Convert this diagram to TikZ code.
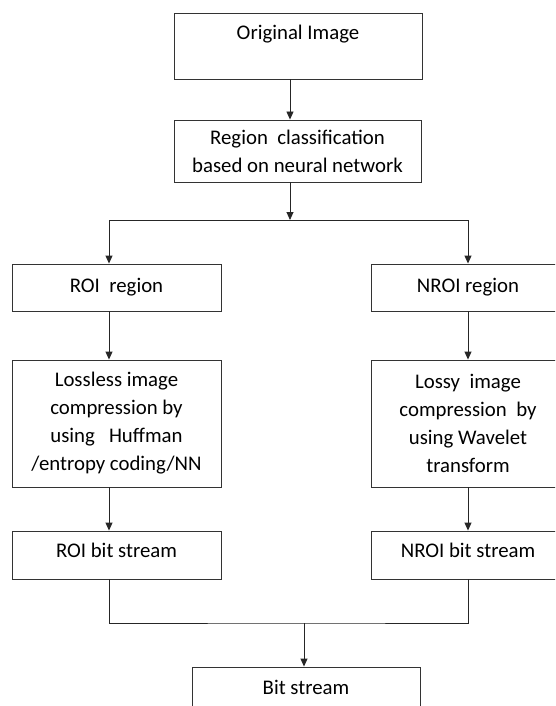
\documentclass[tikz,border=0pt]{standalone}
\usepackage{fontspec}
\setmainfont{Carlito}
\usetikzlibrary{arrows.meta}
\begin{document}
\begin{tikzpicture}[x=1pt,y=-1pt,
  box/.style={draw=black!80, line width=0.9pt, inner sep=0pt, align=center, font=\fontsize{20.8}{28}\selectfont},
  arr/.style={draw=black!85, line width=0.9pt, -{Triangle[length=8pt,width=7pt]}},
  ln/.style={draw=black!85, line width=0.9pt}]
\path[use as bounding box, clip] (0,0) rectangle (555,706);
\node[box, minimum width=248pt, text height=27pt, text depth=39pt] (orig) at (298,46) {Original Image};
\node[box, minimum width=247pt, minimum height=62pt] (region) at (297.5,151) {Region\ \ classification\\based on neural network};
\node[box, minimum width=209pt, minimum height=47pt] (roi) at (116.5,287.5) {ROI\ \ region};
\node[box, minimum width=194pt, minimum height=47pt] (nroi) at (468,287.5) {NROI region};
\node[box, minimum width=209pt, minimum height=127pt] (lossless) at (116.5,423.5) {Lossless image\\compression by\\using\ \ \ Huffman\\/entropy coding/NN};
\node[box, minimum width=194pt, minimum height=127pt] (lossy) at (468,423.5) {Lossy\ \ image\\compression\ \ by\\using Wavelet\\transform};
\node[box, minimum width=209pt, text height=26pt, text depth=22pt] (roibits) at (116.5,555) {ROI bit stream};
\node[box, minimum width=194pt, text height=26pt, text depth=22pt] (nroibits) at (468,555) {NROI bit stream};
\node[box, minimum width=228pt, text height=27pt, text depth=23pt] (bits) at (306,692) {Bit stream};

\coordinate (split) at (290,220);
\coordinate (sl) at (109,220);
\coordinate (sr) at (468,220);
\coordinate (merge) at (304,623);

\path[arr] (orig.south -| split) -- (region.north -| split);
\path[arr] (region.south -| split) -- (split);
\path[arr] (split) -| (roi.north -| sl);
\path[arr] (split) -| (nroi.north -| sr);
\path[arr] (roi.south -| sl) -- (lossless.north -| sl);
\path[arr] (nroi.south -| sr) -- (lossy.north -| sr);
\path[arr] (lossless.south -| sl) -- (roibits.north -| sl);
\path[arr] (lossy.south -| sr) -- (nroibits.north -| sr);
\path[ln] (roibits.south -| sl) |- (merge) -| (nroibits.south -| sr);
\path[arr] (merge) -- (bits.north -| merge);
\end{tikzpicture}
\end{document}
